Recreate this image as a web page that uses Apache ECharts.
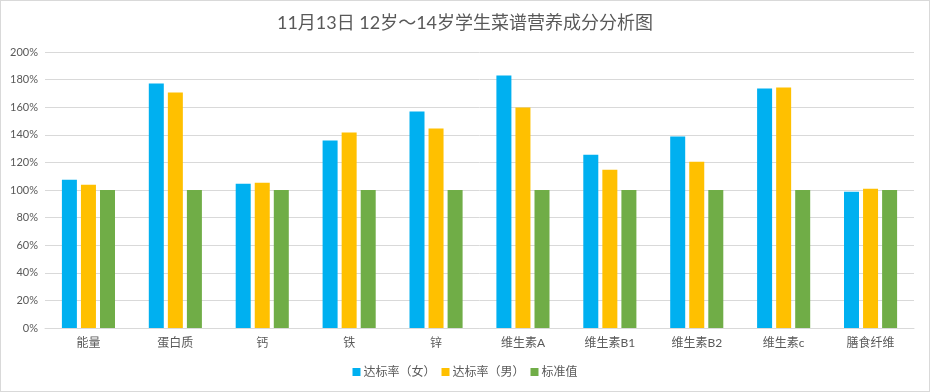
<!DOCTYPE html>
<html><head><meta charset="utf-8">
<script src="https://cdn.jsdelivr.net/npm/echarts@6/dist/echarts.min.js"></script>
<style>html,body{margin:0;padding:0;background:#fff}#c{width:928px;height:390px;border:1px solid #d9d9d9}</style>
</head><body><div id="c"></div>
<script>
var categories = ['能量','蛋白质','钙','铁','锌','维生素A','维生素B1','维生素B2','维生素c','膳食纤维'];
var femaleRate = [107.4,177.1,104.5,135.8,156.8,182.9,125.6,138.7,173.5,98.7];
var maleRate = [103.8,170.6,105.3,141.6,144.5,159.7,114.7,120.5,174.2,100.9];
var standard = [100,100,100,100,100,100,100,100,100,100];
var seriesNames = ['达标率（女）','达标率（男）','标准值'];
var titleText = '11月13日 12岁～14岁学生菜谱营养成分分析图';

var font = 'Lato, "Noto Sans CJK SC", sans-serif';
var chart = echarts.init(document.getElementById('c'));
var colors = ['#00B0F0','#FFC000','#70AD47'];
var data = [femaleRate, maleRate, standard];
chart.setOption({
  animation:false,
  color: colors,
  title:{text:titleText,left:'center',top:8,textStyle:{fontFamily:font,fontSize:18,fontWeight:'normal',color:'#595959'}},
  legend:{bottom:8,left:'center',itemWidth:8,itemHeight:8,itemGap:6,icon:'rect',textStyle:{fontFamily:font,fontSize:12,color:'#595959',padding:[0,0,0,-2]},data:seriesNames},
  grid:{left:44,right:15,top:51,bottom:63,containLabel:false},
  xAxis:{type:'category',data:categories,axisLine:{lineStyle:{color:'#d9d9d9'}},axisTick:{show:false},
    axisLabel:{fontFamily:font,fontSize:12,color:'#595959',margin:9}},
  yAxis:{type:'value',min:0,max:200,interval:20,axisLine:{show:false},axisTick:{show:false},
    splitLine:{lineStyle:{color:'#d9d9d9'}},
    axisLabel:{formatter:'{value}%',fontFamily:font,fontSize:11,color:'#595959',margin:7}},
  series: seriesNames.map(function(n,i){return {name:n,type:'bar',data:data[i],barWidth:15,barGap:'27%'};})
});
</script></body></html>
